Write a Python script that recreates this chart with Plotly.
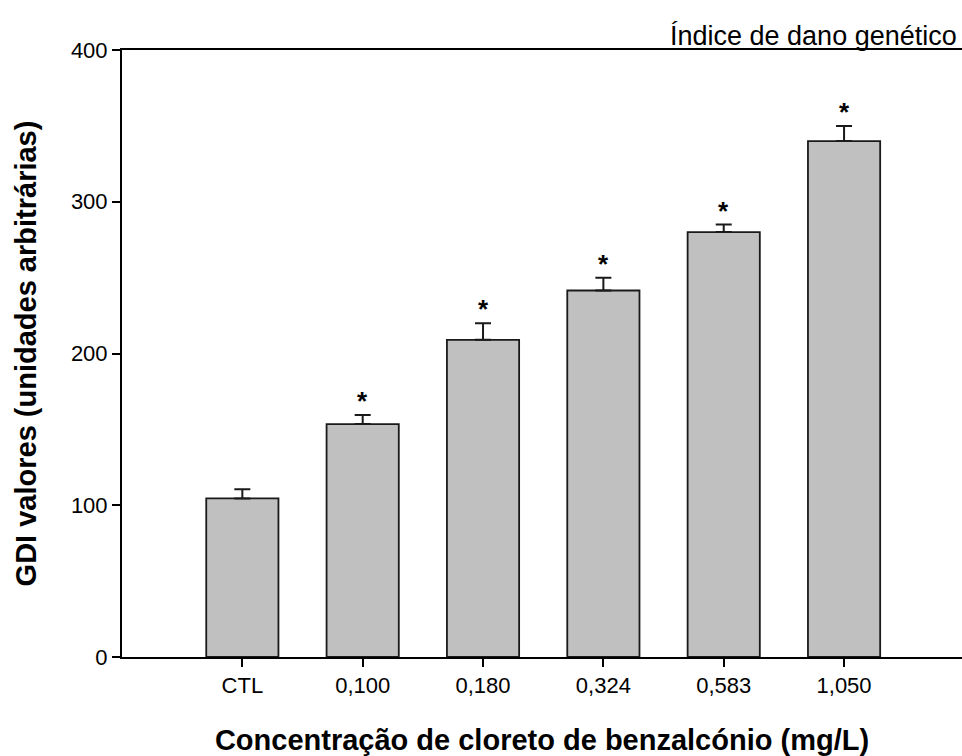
import plotly.graph_objects as go

categories = ["CTL", "0,100", "0,180", "0,324", "0,583", "1,050"]
gdi_values = [104.5, 153.5, 209.0, 241.5, 280.0, 340.0]
gdi_errors = [6.0, 6.0, 11.0, 8.5, 5.0, 10.0]
significant = [False, True, True, True, True, True]
y_ticks = [0, 100, 200, 300, 400]

FONT = "Arial, Liberation Sans, sans-serif"

fig = go.Figure()
fig.add_trace(go.Bar(
    x=list(range(len(categories))),
    y=gdi_values,
    width=0.6,
    marker=dict(color="#c0c0c0", line=dict(color="#1a1a1a", width=1.8)),
    error_y=dict(type="data", array=gdi_errors, arrayminus=[0]*len(gdi_errors),
                 symmetric=False, color="#1a1a1a", thickness=2, width=8),
    hoverinfo="skip",
))

for i, (v, e, s) in enumerate(zip(gdi_values, gdi_errors, significant)):
    if s:
        fig.add_annotation(x=i, y=v + e, text="<b>*</b>", showarrow=False,
                           xref="x", yref="y", yanchor="bottom", yshift=-3,
                           font=dict(family=FONT, size=26, color="black"))

fig.add_annotation(x=1, y=1, xref="paper", yref="paper", xanchor="right",
                   yanchor="bottom", text="Índice de dano genético",
                   showarrow=False, yshift=-3, xshift=-3,
                   font=dict(family=FONT, size=27, color="black"))

fig.update_layout(
    width=962, height=756,
    margin=dict(l=122, r=0, t=50, b=99),
    paper_bgcolor="white", plot_bgcolor="white",
    showlegend=False,
    font=dict(family=FONT, color="black"),
    xaxis=dict(
        range=[-1, 5.98],
        tickmode="array", tickvals=list(range(len(categories))), ticktext=categories,
        ticks="outside", ticklen=8, tickwidth=2, tickcolor="black",
        showline=True, linecolor="black", linewidth=2, mirror=True,
        showgrid=False, zeroline=False,
        tickfont=dict(family=FONT, size=22, color="black"),
        title=dict(text="<b>Concentração de cloreto de benzalcónio (mg/L)</b>",
                   font=dict(family=FONT, size=29, color="black"), standoff=36),
    ),
    yaxis=dict(
        range=[0, 400],
        tickmode="array", tickvals=y_ticks,
        ticks="outside", ticklen=8, tickwidth=2, tickcolor="black",
        showline=True, linecolor="black", linewidth=2,
        showgrid=False, zeroline=False,
        tickfont=dict(family=FONT, size=22, color="black"),
        title=dict(text="<b>GDI valores (unidades arbitrárias)</b>",
                   font=dict(family=FONT, size=29, color="black"), standoff=26),
    ),
)

fig.write_html("out.html",
               config={"displayModeBar": False},
               post_script="document.body.style.margin='0';document.body.style.overflow='hidden';")
